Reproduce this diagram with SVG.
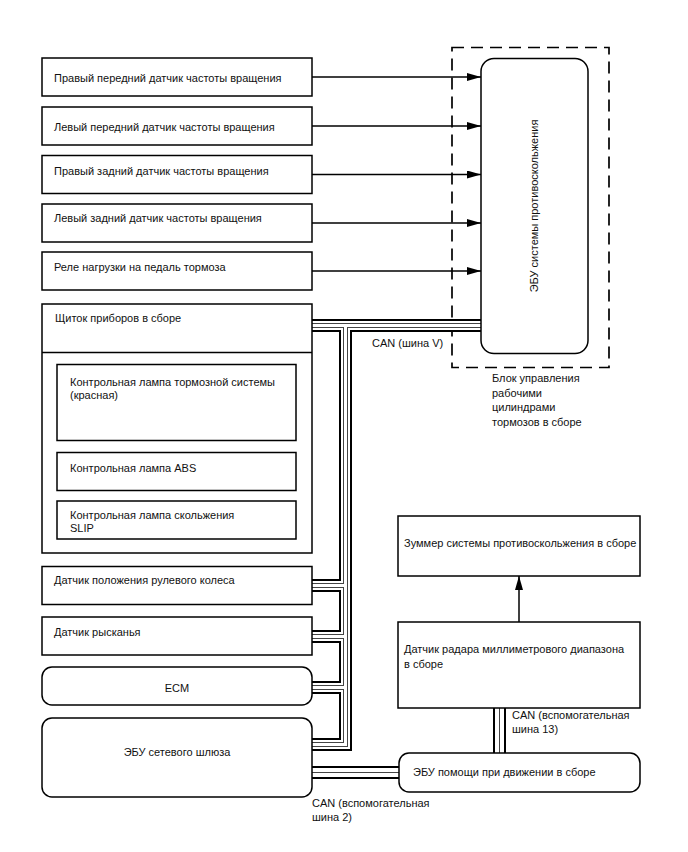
<svg xmlns="http://www.w3.org/2000/svg" xmlns:xlink="http://www.w3.org/1999/xlink" width="688" height="852" viewBox="0 0 688 852">
<style>
.box{fill:#fff;stroke:#000;stroke-width:1.5}
.t{font-family:"Liberation Sans",Arial,sans-serif;font-size:11px;fill:#111}
.mid{text-anchor:middle}
.arr{fill:none;stroke:#000;stroke-width:1.5;marker-end:url(#ah)}
.bound{fill:none;stroke:#000;stroke-width:1.7;stroke-dasharray:12 7}
.b1{fill:none;stroke:#000;stroke-width:13;stroke-linejoin:miter}
.b2{fill:none;stroke:#fff;stroke-width:9;stroke-linejoin:miter}
.b3{fill:none;stroke:#444;stroke-width:5;stroke-linejoin:miter}
.b4{fill:none;stroke:#fff;stroke-width:3;stroke-linejoin:miter}
.g1{fill:none;stroke:#444;stroke-width:1}
</style>
<defs>
<marker id="ah" viewBox="0 0 14 8" markerWidth="14" markerHeight="8" refX="14" refY="4" orient="auto" markerUnits="userSpaceOnUse">
<path d="M0,0 L14,4 L0,8 z" fill="#000"/>
</marker>
<path id="busV" d="M312,325.5 H481 M345.5,325.5 V744.5 H312 M312,585.5 H345.5 M312,636.5 H345.5 M312,687.5 H345.5"/>
<path id="busA" d="M312,772.5 H399 M499.5,708 V753"/>
</defs>

<rect id="boundary" class="bound" x="452" y="47.5" width="157" height="320"/>

<g id="connectors">
<use xlink:href="#busV" class="b1"/>
<use xlink:href="#busA" class="b1"/>
<use xlink:href="#busV" class="b2"/>
<use xlink:href="#busA" class="b2"/>
<use xlink:href="#busV" class="b3"/>
<use xlink:href="#busV" class="b4"/>
<use xlink:href="#busA" class="g1"/>
<path class="arr" d="M312,77 H481"/>
<path class="arr" d="M312,126 H481"/>
<path class="arr" d="M312,174.5 H481"/>
<path class="arr" d="M312,223 H481"/>
<path class="arr" d="M312,271 H481"/>
<path class="arr" d="M519,622 V576"/>
<text class="t" x="372" y="347">CAN (шина V)</text>
<text class="t" x="512" y="719">CAN (вспомогательная</text>
<text class="t" x="512" y="733">шина 13)</text>
<text class="t" x="312" y="807">CAN (вспомогательная</text>
<text class="t" x="312" y="821">шина 2)</text>
</g>

<g id="ecu-abs">
<rect class="box" x="481" y="58.5" width="107" height="295" rx="13"/>
<text class="t mid" transform="translate(538,206) rotate(-90)">ЭБУ системы противоскольжения</text>
</g>
<text id="boundary-label" class="t" x="492"><tspan x="492" y="382">Блок управления</tspan><tspan x="492" y="396.5">рабочими</tspan><tspan x="492" y="411">цилиндрами</tspan><tspan x="492" y="425.5">тормозов в сборе</tspan></text>

<g id="sensor-fr">
<rect class="box" x="42" y="58" width="270" height="38"/>
<text class="t" x="54" y="82">Правый передний датчик частоты вращения</text>
</g>
<g id="sensor-fl">
<rect class="box" x="42" y="107" width="270" height="38"/>
<text class="t" x="54" y="131">Левый передний датчик частоты вращения</text>
</g>
<g id="sensor-rr">
<rect class="box" x="42" y="155.5" width="270" height="38"/>
<text class="t" x="54" y="175">Правый задний датчик частоты вращения</text>
</g>
<g id="sensor-rl">
<rect class="box" x="42" y="204" width="270" height="38"/>
<text class="t" x="54" y="222">Левый задний датчик частоты вращения</text>
</g>
<g id="brake-relay">
<rect class="box" x="42" y="252" width="270" height="38"/>
<text class="t" x="54" y="271">Реле нагрузки на педаль тормоза</text>
</g>

<g id="cluster">
<rect class="box" x="42" y="304" width="270" height="249"/>
<line x1="42" y1="352.5" x2="312" y2="352.5" stroke="#000" stroke-width="1.5"/>
<text class="t" x="55" y="322">Щиток приборов в сборе</text>
</g>
<g id="lamp-brake">
<rect class="box" x="57" y="364.5" width="239" height="76"/>
<text class="t" x="70" y="386">Контрольная лампа тормозной системы</text>
<text class="t" x="70" y="399">(красная)</text>
</g>
<g id="lamp-abs">
<rect class="box" x="57" y="452.5" width="239" height="38"/>
<text class="t" x="70" y="472">Контрольная лампа ABS</text>
</g>
<g id="lamp-slip">
<rect class="box" x="57" y="501" width="239" height="38"/>
<text class="t" x="70" y="519">Контрольная лампа скольжения</text>
<text class="t" x="70" y="532">SLIP</text>
</g>

<g id="steering-sensor">
<rect class="box" x="42" y="566.5" width="270" height="38"/>
<text class="t" x="54" y="584">Датчик положения рулевого колеса</text>
</g>
<g id="yaw-sensor">
<rect class="box" x="42" y="617" width="270" height="38"/>
<text class="t" x="54" y="636">Датчик рысканья</text>
</g>
<g id="ecm">
<rect class="box" x="42" y="667" width="270" height="38" rx="10"/>
<text class="t mid" x="177" y="692">ECM</text>
</g>
<g id="gateway">
<rect class="box" x="42" y="718" width="270" height="79" rx="10"/>
<text class="t mid" x="177" y="756">ЭБУ сетевого шлюза</text>
</g>

<g id="buzzer">
<rect class="box" x="398" y="516" width="242" height="60"/>
<text class="t" x="404" y="547">Зуммер системы противоскольжения в сборе</text>
</g>
<g id="radar">
<rect class="box" x="398" y="622" width="242" height="86"/>
<text class="t" x="404" y="653">Датчик радара миллиметрового диапазона</text>
<text class="t" x="404" y="668">в сборе</text>
</g>
<g id="drive-assist">
<rect class="box" x="399" y="753" width="241" height="39" rx="10"/>
<text class="t" x="413" y="776">ЭБУ помощи при движении в сборе</text>
</g>
</svg>
